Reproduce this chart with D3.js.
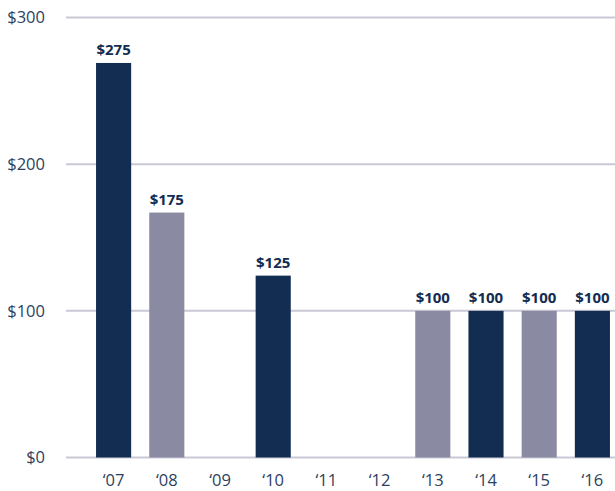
<!DOCTYPE html>
<html>
<head>
<meta charset="utf-8">
<script src="https://cdn.jsdelivr.net/npm/d3@7"></script>
<style>
  body { margin: 0; background: #fff; }
  svg { display: block; font-family: "Open Sans", sans-serif; }
</style>
</head>
<body>
<div id="chart"></div>
<script>
// 数据
const years = ["‘07", "‘08", "‘09", "‘10", "‘11", "‘12", "‘13", "‘14", "‘15", "‘16"];
const values = [269, 167, null, 124, null, null, 100, 100, 100, 100];
const valueLabels = ["$275", "$175", "", "$125", "", "", "$100", "$100", "$100", "$100"];
const barShade = ["dark", "light", "", "dark", "", "", "light", "dark", "light", "dark"];
const yTicks = [0, 100, 200, 300];

const width = 615, height = 491;
const colors = { dark: "#132c51", light: "#8a8ba2" };
const textColor = "#2e3f5e";

const svg = d3.select("#chart").append("svg")
    .attr("width", width)
    .attr("height", height);

// 比例尺
const x = d3.scaleBand()
    .domain(years)
    .range([87, 619])
    .paddingInner(0.34)
    .paddingOuter(0.17);

const y = d3.scaleLinear()
    .domain([0, 300])
    .range([457.5, 17.5]);

// 网格线
svg.selectAll("line.grid")
    .data(yTicks)
    .enter()
    .append("line")
    .attr("class", "grid")
    .attr("x1", 66)
    .attr("x2", width)
    .attr("y1", d => y(d))
    .attr("y2", d => y(d))
    .attr("stroke", "#c9c9d6")
    .attr("stroke-width", 2);

// Y轴标签
svg.selectAll("text.ytick")
    .data(yTicks)
    .enter()
    .append("text")
    .attr("class", "ytick")
    .attr("x", 45)
    .attr("y", d => y(d))
    .attr("dy", "0.35em")
    .attr("text-anchor", "end")
    .attr("font-size", 16.5)
    .attr("fill", textColor)
    .text(d => "$" + d);

// 柱子
const data = years.map((yr, i) => ({ yr, v: values[i], label: valueLabels[i], shade: barShade[i] }))
    .filter(d => d.v != null);

svg.selectAll("rect.bar")
    .data(data)
    .enter()
    .append("rect")
    .attr("class", "bar")
    .attr("x", d => x(d.yr))
    .attr("width", x.bandwidth())
    .attr("y", d => y(d.v))
    .attr("height", d => y(0) - y(d.v))
    .attr("fill", d => colors[d.shade]);

// 数值标签
svg.selectAll("text.value")
    .data(data)
    .enter()
    .append("text")
    .attr("class", "value")
    .attr("x", d => x(d.yr) + x.bandwidth() / 2)
    .attr("y", d => y(d.v) - 8)
    .attr("text-anchor", "middle")
    .attr("font-size", 15)
    .attr("font-weight", "bold")
    .attr("fill", "#132c51")
    .text(d => d.label);

// X轴标签
svg.selectAll("text.xtick")
    .data(years)
    .enter()
    .append("text")
    .attr("class", "xtick")
    .attr("x", d => x(d) + x.bandwidth() / 2)
    .attr("y", 486)
    .attr("text-anchor", "middle")
    .attr("font-size", 16.5)
    .attr("fill", textColor)
    .text(d => d);
</script>
</body>
</html>
